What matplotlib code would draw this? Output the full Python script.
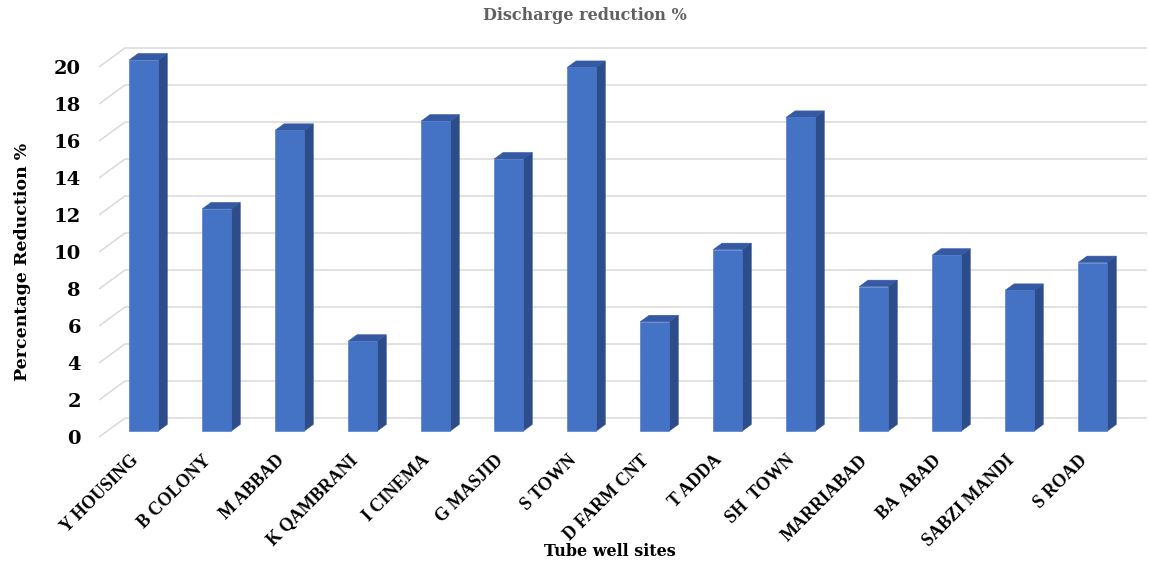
import matplotlib
matplotlib.use("Agg")
import matplotlib.pyplot as plt
from matplotlib.patches import Polygon
import numpy as np

# Tube well sites and their discharge reduction (%)
sites = ["Y HOUSING", "B COLONY", "M ABBAD", "K QAMBRANI", "I CINEMA",
         "G MASJID", "S TOWN", "D FARM CNT", "T ADDA", "SH  TOWN",
         "MARRIABAD", "BA  ABAD", "SABZI MANDI", "S ROAD"]
reduction = [20.05, 12.0, 16.25, 4.85, 16.75, 14.7, 19.65,
             5.9, 9.8, 16.95, 7.8, 9.5, 7.6, 9.1]
y_ticks = [0, 2, 4, 6, 8, 10, 12, 14, 16, 18, 20]

W, H = 1150, 567
FONT = "DejaVu Serif"
XFONT = "Liberation Serif"
FRONT = "#4472C4"
SIDE = "#2C4D8A"
TOP = "#3559A3"
GRID = "#D9D9D9"

fig = plt.figure(figsize=(W / 100, H / 100), dpi=100)
fig.patch.set_facecolor("white")

# front plane of the pseudo-3D plot box (pixels)
left, right, bottom, top = 99, 1121, 437, 67
ax = fig.add_axes([left / W, (H - bottom) / H, (right - left) / W, (bottom - top) / H])
n = len(sites)
x = np.arange(n)
ax.set_xlim(-0.5, n - 0.5)
ax.set_ylim(0, 20)
for s in ax.spines.values():
    s.set_visible(False)
ax.set_facecolor("none")

# depth of the back wall expressed in data units (26 px right, 19 px up)
inv = ax.transData.inverted()
p0 = ax.transData.transform((0, 0))
ddx, ddy = inv.transform(p0 + np.array([26.0, 19.0])) - inv.transform(p0)

# back-wall gridlines with slanted side-wall segments
x0, x1 = -0.5, n - 0.5
for v in y_ticks:
    ax.plot([x0, x0 + ddx, x1 + ddx], [v, v + ddy, v + ddy],
            color=GRID, lw=1.1, clip_on=False, zorder=1, solid_capstyle="butt")

# 3D-looking columns
w = 0.40
f0, f1 = 0.32, 0.66
for xi, v in zip(x, reduction):
    ox0, oy0 = f0 * ddx, f0 * ddy
    ox1, oy1 = f1 * ddx, f1 * ddy
    xl, xr = xi - w / 2, xi + w / 2
    front = [(xl + ox0, oy0), (xr + ox0, oy0), (xr + ox0, v + oy0), (xl + ox0, v + oy0)]
    side = [(xr + ox0, oy0), (xr + ox1, oy1), (xr + ox1, v + oy1), (xr + ox0, v + oy0)]
    topf = [(xl + ox0, v + oy0), (xr + ox0, v + oy0), (xr + ox1, v + oy1), (xl + ox1, v + oy1)]
    for pts, col in ((side, SIDE), (topf, TOP), (front, FRONT)):
        ax.add_patch(Polygon(pts, closed=True, facecolor=col, edgecolor=col,
                             lw=0.4, clip_on=False, zorder=3))

# axis ticks and labels
ax.set_yticks(y_ticks)
ax.set_yticklabels([str(t) for t in y_ticks], fontfamily=FONT,
                   fontweight="bold", fontsize=14, color="black")
ax.tick_params(axis="y", length=0, pad=13)
ax.set_xticks(x)
ax.set_xticklabels(sites, fontfamily=XFONT, fontweight="bold",
                   fontsize=13, color="black")
ax.tick_params(axis="x", length=0, pad=15, labelrotation=45)
for lab in ax.get_xticklabels():
    lab.set_horizontalalignment("right")
    lab.set_verticalalignment("center")
    lab.set_rotation_mode("anchor")

fig.text(585 / W, 1 - 15 / H, "Discharge reduction %", ha="center", va="center",
         fontfamily=FONT, fontweight="bold", fontsize=11.5, color="#606060")
fig.text(23 / W, 1 - 262 / H, "Percentage Reduction %", ha="center", va="center",
         rotation=90, fontfamily=FONT, fontweight="bold", fontsize=12.5, color="black")
fig.text(610 / W, 1 - 552 / H, "Tube well sites", ha="center", va="center",
         fontfamily=FONT, fontweight="bold", fontsize=11.5, color="black")

fig.savefig("out.png", dpi=100, facecolor="white")
